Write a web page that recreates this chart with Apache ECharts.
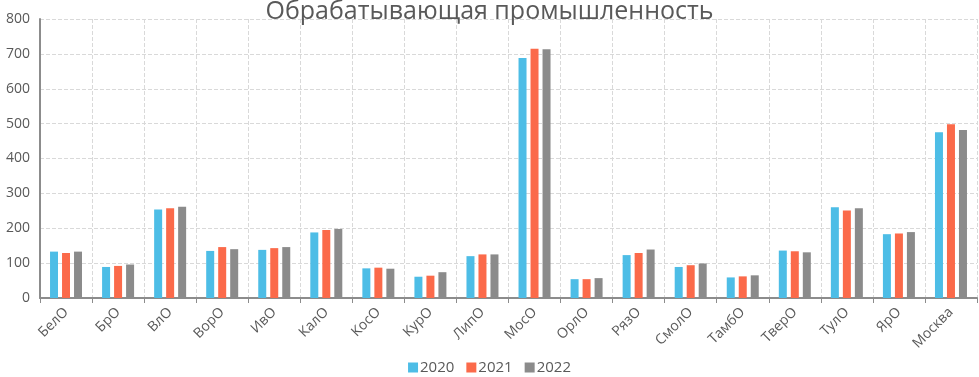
<!DOCTYPE html>
<html>
<head>
<meta charset="utf-8">
<script src="https://cdn.jsdelivr.net/npm/echarts@6/dist/echarts.min.js"></script>
<style>
    html, body { margin: 0; padding: 0; background: #fff; }
    #chart { width: 979px; height: 377px; }
</style>
</head>
<body>
<div id="chart"></div>
<script>
const regions = ['БелО', 'БрО', 'ВлО', 'ВорО', 'ИвО', 'КалО', 'КосО', 'КурО', 'ЛипО', 'МосО',
    'ОрлО', 'РязО', 'СмолО', 'ТамбО', 'ТверО', 'ТулО', 'ЯрО', 'Москва']

const values2020 = [133, 89, 254, 135, 138, 188, 85, 61, 120, 688, 54, 123, 89, 59, 136, 260, 183, 475]
const values2021 = [129, 92, 257, 146, 143, 195, 87, 64, 125, 715, 54, 129, 94, 62, 134, 251, 185, 498]
const values2022 = [133, 96, 262, 140, 146, 198, 84, 74, 125, 713, 57, 139, 99, 65, 131, 257, 189, 482]

const yTicks = [0, 100, 200, 300, 400, 500, 600, 700, 800]

const FONT = '"Open Sans", sans-serif'

const makeSeries = (name, data, color) => {
    return {
        name: name,
        type: 'bar',
        data: data,
        barWidth: 8,
        barGap: '50%',
        itemStyle: { color: color }
    }
}

const chart = echarts.init(document.getElementById('chart'))

chart.setOption({
    animation: false,
    title: {
        text: 'Обрабатывающая промышленность',
        left: 'center',
        top: -6,
        textStyle: {
            fontFamily: FONT,
            fontSize: 25,
            fontWeight: 'normal',
            color: '#595959'
        }
    },
    legend: {
        bottom: -3,
        left: 'center',
        itemWidth: 10,
        itemHeight: 10,
        itemGap: 12,
        icon: 'rect',
        textStyle: { fontFamily: FONT, fontSize: 15, color: '#595959', padding: [0, 0, 0, -3] },
        data: ['2020', '2021', '2022']
    },
    grid: {
        left: 40,
        right: 2,
        top: 19,
        bottom: 79,
        containLabel: false
    },
    xAxis: {
        type: 'category',
        data: regions,
        axisLine: { lineStyle: { color: '#8c8c8c', width: 2 } },
        axisTick: { show: true, length: 5, lineStyle: { color: '#8c8c8c' } },
        axisLabel: {
            rotate: 45,
            interval: 0,
            margin: 12,
            fontFamily: FONT,
            fontSize: 14,
            color: '#595959'
        },
        splitLine: {
            show: true,
            lineStyle: { color: '#d9d9d9', type: 'dashed' }
        }
    },
    yAxis: {
        type: 'value',
        min: yTicks[0],
        max: yTicks[yTicks.length - 1],
        interval: 100,
        axisLine: { show: true, lineStyle: { color: '#8c8c8c', width: 2 } },
        axisTick: { show: false },
        axisLabel: {
            margin: 10,
            fontFamily: FONT,
            fontSize: 14,
            color: '#595959'
        },
        splitLine: {
            lineStyle: { color: '#d9d9d9', type: 'dashed' }
        }
    },
    series: [
        makeSeries('2020', values2020, '#4dbde6'),
        makeSeries('2021', values2021, '#fb6a4a'),
        makeSeries('2022', values2022, '#8b8b8b')
    ]
})
</script>
</body>
</html>
